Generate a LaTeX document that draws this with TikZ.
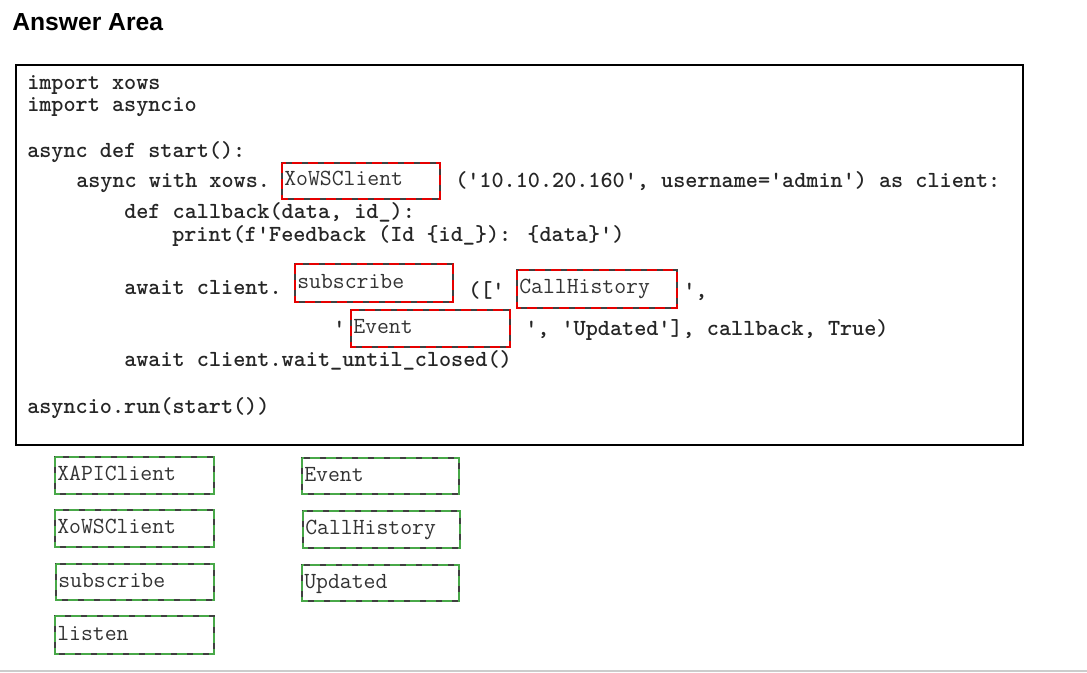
\documentclass[tikz,border=0pt]{standalone}
\usepackage{fontspec}
\setmainfont{Liberation Sans}
\definecolor{slotred}{RGB}{230,0,0}
\definecolor{bankgreen}{RGB}{72,168,72}
\begin{document}
\begin{tikzpicture}[x=0.75pt,y=-0.75pt,
	code/.style={anchor=base west,inner sep=0pt,font=\fontsize{17.3}{17.3}\selectfont\ttfamily\bfseries,text=black!85},
	chip/.style={anchor=base west,inner sep=0pt,font=\fontsize{17.3}{17.3}\selectfont\ttfamily,text=black!80},
	slotbox/.style={draw=black!75,line width=1.2pt},
	reddash/.style={draw=slotred,line width=1.2pt,dash pattern=on 7.5pt off 4.5pt},
	greendash/.style={draw=bankgreen,line width=1.2pt,dash pattern=on 7.5pt off 4.5pt}]
	\useasboundingbox (0,0) rectangle (1087,673);
	\fill[white] (0,0) rectangle (1087,673);

	\node[anchor=base west,inner sep=0pt,font=\fontsize{18.5}{18.5}\selectfont\bfseries] (title) at (12,31) {Answer Area};

	% code frame
	\draw[line width=1.9pt] (16,65) rectangle (1023,445);

	\node[code] (l1) at (27,90) {import xows};
	\node[code] (l2) at (27,112) {import asyncio};
	\node[code] (l3) at (27,158) {async def start():};
	\node[code] (l4) at (76,188) {async with xows.};
	\node[code] (l4b) at (455,188) {('10.10.20.160', username='admin') as client:};
	\node[code] (l5) at (124,219) {def callback(data, id\_):};
	\node[code] (l6) at (172,242) {print(f'Feedback (Id \{id\_\}): \{data\}')};
	\node[code] (l7) at (124,295) {await client.};
	\node[code] (l7b) at (468,297) {(['};
	\node[code] (l7c) at (683,297) {',};
	\node[code] (l8) at (333,335) {'};
	\node[code] (l8b) at (525,335) {', 'Updated'], callback, True)};
	\node[code] (l9) at (124,366) {await client.wait\_until\_closed()};
	\node[code] (l10) at (27,413) {asyncio.run(start())};

	% answer slots
	\foreach \x/\y/\w/\h/\t [count=\i] in {282/163/158/36/XoWSClient, 295/264/158/38/subscribe,
		517/270/160/38/CallHistory, 351/310/159/37/Event} {
		\draw[slotbox] (\x,\y) rectangle ++(\w,\h);
		\draw[reddash] (\x,\y) rectangle ++(\w,\h);
		\node[chip] (slot\i) at ({\x+2},{\y+\h/2+5}) {\t};
	}

	% answer bank
	\foreach \x/\y/\w/\h/\t [count=\i] in {55/457/159/37/XAPIClient, 55/510/159/37/XoWSClient,
		56/564/158/36/subscribe, 55/616/159/38/listen, 302/458/157/36/Event,
		303/511/157/37/CallHistory, 302/565/157/36/Updated} {
		\draw[slotbox] (\x,\y) rectangle ++(\w,\h);
		\draw[greendash] (\x,\y) rectangle ++(\w,\h);
		\node[chip] (bank\i) at ({\x+2},{\y+\h/2+5}) {\t};
	}

	\draw[black!20,line width=1pt] (0,671) -- (1087,671);
\end{tikzpicture}
\end{document}
